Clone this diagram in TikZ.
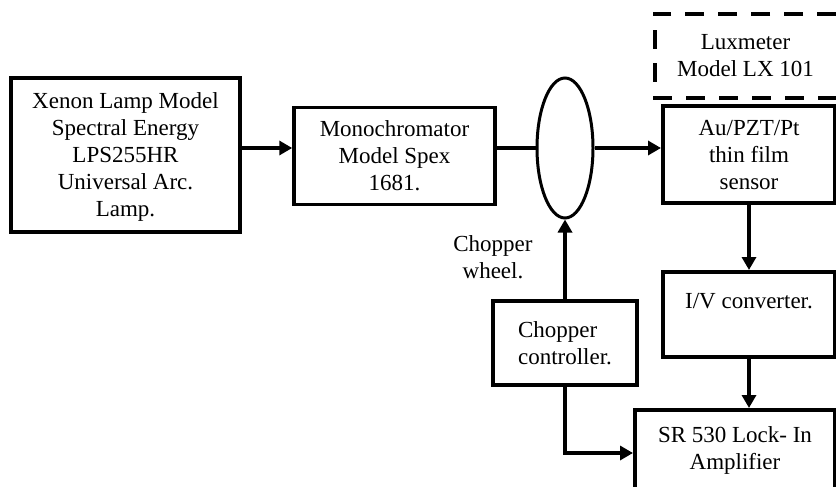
\documentclass[tikz,border=0pt]{standalone}
\usepackage{fontspec}
\setmainfont{Liberation Serif}
\usetikzlibrary{calc,arrows.meta,shapes.geometric}

\begin{document}
\begin{tikzpicture}[x=1pt,y=-1pt]
                      \tikzstyle{block}=[rectangle,draw=black,line width=4pt,align=center,inner sep=0pt,font=\fontsize{23}{27}\selectfont]
                      \tikzstyle{label}=[align=center,inner sep=0pt,font=\fontsize{23}{27}\selectfont]
                      \tikzstyle{wire}=[line width=4pt]
                      \tikzstyle{arrow}=[wire,-{Triangle[length=13pt,width=14pt]}]
                      \useasboundingbox (0,0) rectangle (836,487);
                      \node [block, minimum width=229pt, minimum height=154pt, text depth=-6pt] (lamp) at (125.5,155) {Xenon Lamp Model\\Spectral Energy\\LPS255HR\\Universal Arc.\\Lamp.};
                      \node [block, line width=3.5pt, minimum width=201pt, minimum height=97pt] (mono) at (394.5,156) {Monochromator\\Model Spex\\1681.};
                      \node [ellipse, draw=black, line width=3pt, minimum width=56pt, minimum height=140pt, inner sep=0pt] (wheel) at (565,148) {};
                      \node [block, minimum width=172pt, minimum height=97pt, text depth=-8pt] (sensor) at (749,154.5) {Au/PZT/Pt\\thin film\\sensor};
                      \node [label, minimum width=181pt, minimum height=84pt] (lux) at (745.5,56) {Luxmeter\\Model LX 101};
                      \node [block, minimum width=172pt, minimum height=85pt] (iv) at (749,314.5) {I/V converter.\\\mbox{}};
                      \node [block, align=left, minimum width=144pt, minimum height=84pt] (ctrl) at (565,343) {Chopper\\controller.};
                      \node [block, minimum width=200pt, minimum height=80pt] (amp) at (735,450) {SR 530 Lock- In\\Amplifier};
                      \node [label] (wheellabel) at (493,257) {Chopper\\wheel.};
                      % luxmeter outline, open to the right
                      \draw [line width=4pt, dash pattern=on 19pt off 14pt] (lux.north east) -- (lux.north west) -- (lux.south west) -- (lux.south east);
                      % signal path
                      \draw [arrow] (lamp.east |- wheel.center) -- (mono.west |- wheel.center);
                      \draw [wire, line width=3.5pt] (mono.east |- wheel.center) -- (wheel.west);
                      \draw [arrow] (wheel.east) -- (sensor.west |- wheel.center);
                      \draw [arrow] (sensor.south) -- (iv.north);
                      \draw [arrow] (iv.south) -- (iv.south |- amp.north);
                      % chopper
                      \draw [arrow] (ctrl.north) -- (wheel.south);
                      \draw [arrow] (ctrl.south) |- ($(amp.west)+(0,3)$);
                  \end{tikzpicture}
\end{document}
